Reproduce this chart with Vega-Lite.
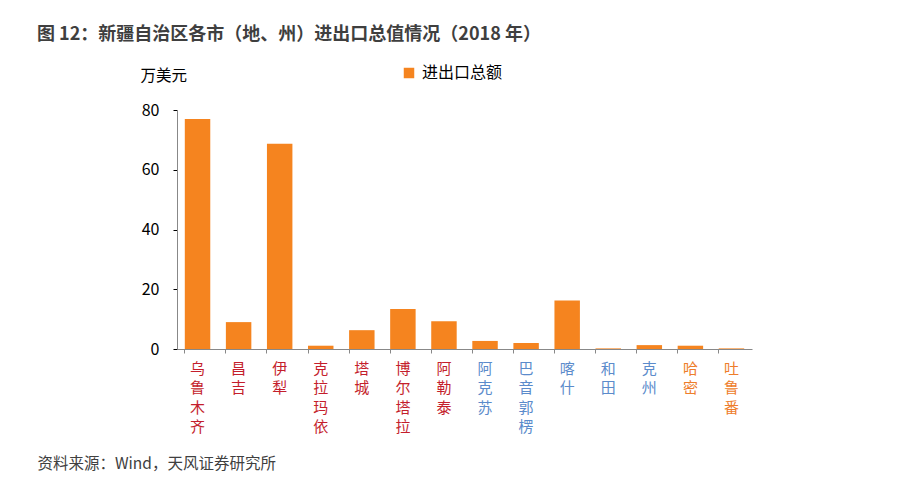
{
  "$schema": "https://vega.github.io/schema/vega-lite/v6.json",
  "autosize": "none",
  "width": 575,
  "height": 239,
  "padding": {"left": 177, "top": 110, "right": 148, "bottom": 134},
  "background": "white",
  "config": {"font": "Noto Sans CJK SC", "view": {"stroke": null}},
  "title": {
    "text": "图 12：新疆自治区各市（地、州）进出口总值情况（2018 年）",
    "anchor": "start",
    "frame": "group",
    "dx": -140,
    "offset": 21,
    "fontSize": 18,
    "fontWeight": "bold",
    "color": "#3f3f3f"
  },
  "data": {
    "values": [
      {"city": "乌鲁木齐", "value": 77.0, "series": "进出口总额"},
      {"city": "昌吉", "value": 9.0, "series": "进出口总额"},
      {"city": "伊犁", "value": 68.7, "series": "进出口总额"},
      {"city": "克拉玛依", "value": 1.1, "series": "进出口总额"},
      {"city": "塔城", "value": 6.3, "series": "进出口总额"},
      {"city": "博尔塔拉", "value": 13.4, "series": "进出口总额"},
      {"city": "阿勒泰", "value": 9.3, "series": "进出口总额"},
      {"city": "阿克苏", "value": 2.7, "series": "进出口总额"},
      {"city": "巴音郭楞", "value": 2.0, "series": "进出口总额"},
      {"city": "喀什", "value": 16.2, "series": "进出口总额"},
      {"city": "和田", "value": 0.2, "series": "进出口总额"},
      {"city": "克州", "value": 1.3, "series": "进出口总额"},
      {"city": "哈密", "value": 1.1, "series": "进出口总额"},
      {"city": "吐鲁番", "value": 0.2, "series": "进出口总额"}
    ]
  },
  "mark": {"type": "bar"},
  "encoding": {
    "x": {
      "field": "city",
      "type": "nominal",
      "sort": null,
      "scale": {"paddingInner": 0.38, "paddingOuter": 0.19},
      "axis": {
        "title": "资料来源：Wind，天风证券研究所",
        "titleX": -140,
        "titleY": 114,
        "titleAlign": "left",
        "titleAnchor": "start",
        "titleBaseline": "middle",
        "titleFontSize": 15.5,
        "titleFontWeight": "normal",
        "titleColor": "#404040",
        "labelAngle": 0,
        "labelExpr": "split(datum.label, '')",
        "labelLineHeight": 19.5,
        "labelFontSize": 15,
        "labelBaseline": "top",
        "labelAlign": "center",
        "labelPadding": 8,
        "labelDx": 20.6,
        "bandPosition": 0,
        "tickSize": 4,
        "tickColor": "#888888",
        "domainColor": "#888888",
        "labelColor": {
          "condition": [
            {"test": "indexof(['阿克苏','巴音郭楞','喀什','和田','克州'], datum.value) >= 0", "value": "#5B8BCB"},
            {"test": "indexof(['哈密','吐鲁番'], datum.value) >= 0", "value": "#EE7D2B"}
          ],
          "value": "#C41E2C"
        }
      }
    },
    "y": {
      "field": "value",
      "type": "quantitative",
      "scale": {"domain": [0, 80], "nice": false},
      "axis": {
        "title": "万美元",
        "titleAngle": 0,
        "titleAlign": "left",
        "titleBaseline": "middle",
        "titleX": -37,
        "titleY": -35,
        "titleFontSize": 15.5,
        "titleFontWeight": "normal",
        "titleColor": "#000000",
        "values": [0, 20, 40, 60, 80],
        "labelFontSize": 16,
        "labelColor": "#000000",
        "labelPadding": 14,
        "tickSize": 4,
        "tickColor": "#000000",
        "domainColor": "#888888",
        "grid": false
      }
    },
    "color": {
      "field": "series",
      "type": "nominal",
      "scale": {"range": ["#F5841F"]},
      "legend": {
        "orient": "none",
        "legendX": 224,
        "legendY": -45,
        "title": null,
        "symbolType": "square",
        "symbolSize": 110,
        "symbolStrokeWidth": 0,
        "labelFontSize": 16,
        "labelColor": "#000000",
        "labelOffset": 5
      }
    }
  }
}
